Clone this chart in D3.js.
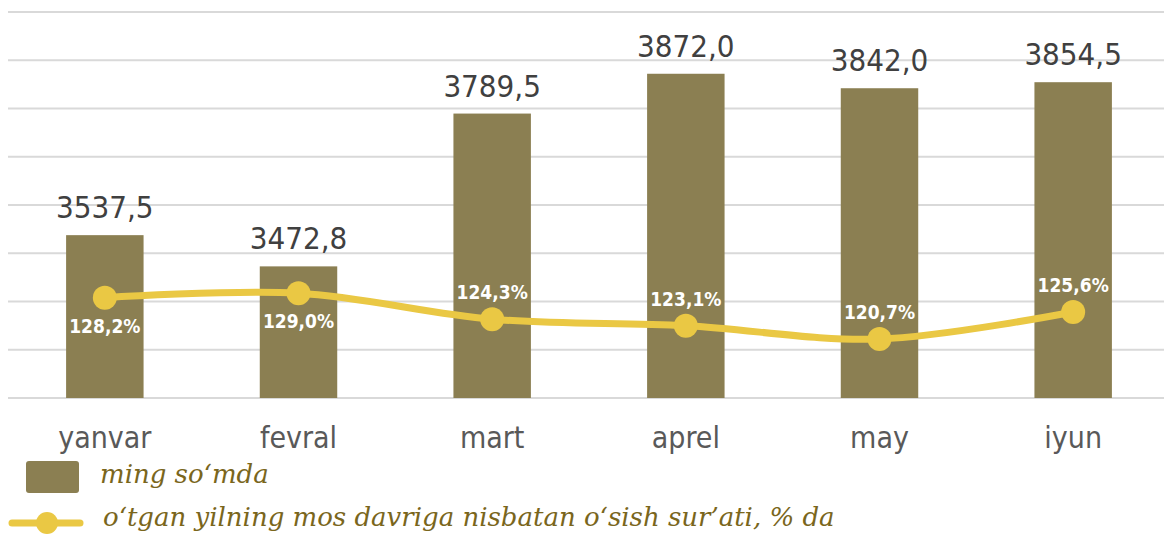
<!DOCTYPE html>
<html><head><meta charset="utf-8">
<script src="https://cdn.jsdelivr.net/npm/d3@7"></script>
<style>body{margin:0;background:#fff;overflow:hidden}svg{display:block}</style>
</head><body>
<svg id="chart" width="1164" height="534"></svg>
<script>
const categories = ["yanvar","fevral","mart","aprel","may","iyun"];
const barValues = [3537.5, 3472.8, 3789.5, 3872.0, 3842.0, 3854.5];
const lineValues = [128.2, 129.0, 124.3, 123.1, 120.7, 125.6];
const barTicks = [3200,3300,3400,3500,3600,3700,3800,3900,4000];
const labelAbove = [false,false,true,true,true,true];
const legendLabels = ["ming so‘mda","o‘tgan yilning mos davriga nisbatan o‘sish sur’ati, % da"];

const svg = d3.select("#chart");
const plotLeft = 8, plotRight = 1170, plotTop = 12, plotBottom = 398;
const x = d3.scaleBand().domain(categories).range([plotLeft, plotRight]).paddingInner(0.6).paddingOuter(0.3);
const y = d3.scaleLinear().domain([3200, 4000]).range([plotBottom, plotTop]);
const y2 = d3.scaleLinear().domain([110, 180]).range([plotBottom, plotTop]);
const fmt = v => d3.format(".1f")(v).replace(".", ",");

svg.append("g").selectAll("line").data(barTicks).join("line")
  .attr("x1", plotLeft).attr("x2", 1164).attr("y1", d=>y(d)).attr("y2", d=>y(d))
  .attr("stroke", "#d9d9d9").attr("stroke-width", 2);

svg.append("g").selectAll("rect").data(barValues).join("rect")
  .attr("x", (d,i)=>x(categories[i])).attr("width", x.bandwidth())
  .attr("y", d=>y(d)).attr("height", d=>plotBottom - y(d))
  .attr("fill", "#8b7f52");

svg.append("g").selectAll("text").data(barValues).join("text")
  .attr("x", (d,i)=>x(categories[i]) + x.bandwidth()/2).attr("y", d=>y(d) - 17)
  .attr("text-anchor","middle").attr("font-family","'DejaVu Sans Condensed','DejaVu Sans',sans-serif")
  .attr("font-size", 31).attr("fill","#404040").text(fmt);

const cx = i => x(categories[i]) + x.bandwidth()/2;
const line = d3.line().x((d,i)=>cx(i)).y(d=>y2(d)).curve(d3.curveCatmullRom.alpha(0.5));
svg.append("path").datum(lineValues).attr("d", line).attr("fill","none")
  .attr("stroke","#eac844").attr("stroke-width",7).attr("stroke-linecap","round");
svg.append("g").selectAll("circle").data(lineValues).join("circle")
  .attr("cx",(d,i)=>cx(i)).attr("cy",d=>y2(d)).attr("r",12).attr("fill","#eac844");

svg.append("g").selectAll("text").data(lineValues).join("text")
  .attr("x",(d,i)=>cx(i)).attr("y",(d,i)=>labelAbove[i] ? y2(d) - 20 : y2(d) + 35)
  .attr("text-anchor","middle").attr("font-family","'DejaVu Sans Condensed','DejaVu Sans',sans-serif")
  .attr("font-weight","bold").attr("font-size",19).attr("fill","#ffffff").text(d=>fmt(d)+"%");

const xAxis = svg.append("g").attr("transform",`translate(0,${plotBottom})`)
  .call(d3.axisBottom(x).tickSize(0).tickPadding(29));
xAxis.select(".domain").remove();
xAxis.selectAll("text").attr("font-family","'DejaVu Sans Condensed','DejaVu Sans',sans-serif")
  .attr("font-size",30).attr("fill","#595959");

const lg = svg.append("g");
lg.append("rect").attr("x",26).attr("y",461).attr("width",53).attr("height",32).attr("rx",3).attr("fill","#8b7f52");
lg.append("line").attr("x1",12).attr("x2",80).attr("y1",523).attr("y2",523).attr("stroke","#eac844").attr("stroke-width",7).attr("stroke-linecap","round");
lg.append("circle").attr("cx",47).attr("cy",523).attr("r",11).attr("fill","#eac844");
lg.selectAll("text").data(legendLabels).join("text")
  .attr("x",(d,i)=> i===0 ? 100 : 103).attr("y",(d,i)=> i===0 ? 483 : 526)
  .attr("font-family","'DejaVu Serif',serif").attr("font-style","italic")
  .attr("font-size",26).attr("fill","#7a661c").text(d=>d);
</script>
</body></html>
